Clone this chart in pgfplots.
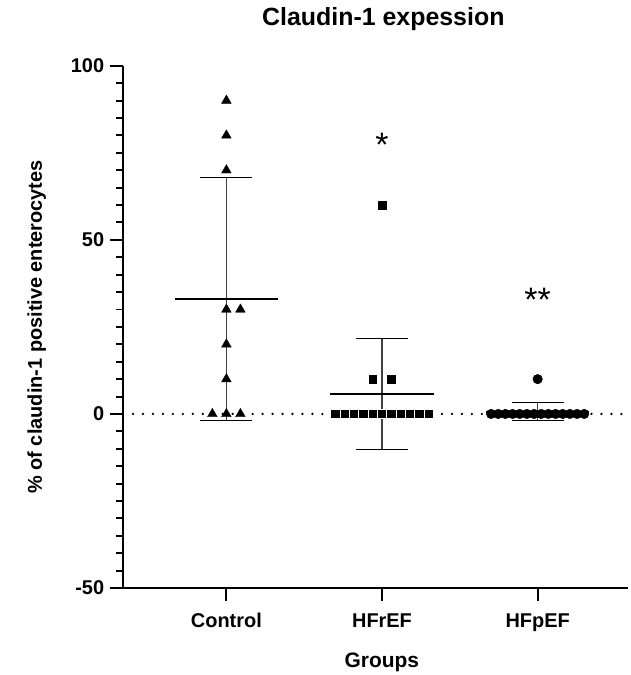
\documentclass[border=0pt]{standalone}
\usepackage{fontspec}
\setmainfont{Liberation Sans}
\usepackage{pgfplots}
\pgfplotsset{compat=1.18}
\definecolor{sdgray}{HTML}{404040}
\begin{document}
\begin{tikzpicture}
\path (-123pt,-85pt) rectangle (510pt,590pt);
\begin{axis}[
  anchor=south west, at={(0pt,0pt)},
  scale only axis, width=507pt, height=524pt,
  xmin=0.333, xmax=3.58, ymin=-50, ymax=100,
  axis x line=bottom, axis y line=left,
  axis line style={-, line width=2pt},
  xtick={1,2,3}, xticklabels={Control,HFrEF,HFpEF},
  ytick={-50,0,50,100}, yticklabels={-50,0,50,100},
  minor y tick num=9,
  tick align=outside,
  major tick length=13pt, minor tick length=7pt,
  every tick/.style={black, line width=2pt},
  tick label style={font=\fontsize{20}{24}\selectfont\bfseries},
  xticklabel style={yshift=-9pt},
  yticklabel style={xshift=-2pt},
  clip=false,
  title={\fontsize{25}{30}\selectfont\bfseries Claudin-1 expession},
  title style={at={(axis description cs:0.516,1.078)}, anchor=center},
  xlabel={\fontsize{21}{25}\selectfont\bfseries Groups},
  xlabel style={at={(axis description cs:0.513,-0.142)}, anchor=center},
  ylabel={\fontsize{20}{24}\selectfont\bfseries \% of claudin-1 positive enterocytes},
  ylabel style={at={(axis description cs:-0.170,0.5)}, anchor=center, rotate=0},
]
% zero reference line
\addplot[black, line width=2.6pt, line cap=round, dash pattern=on 0pt off 10pt] coordinates {(0.40,0) (3.58,0)};

% Control: mean 33, SD 35
\addplot[sdgray, line width=1.3pt] coordinates {(1,-2) (1,68)};
\addplot[black, line width=1.1pt] coordinates {(0.833,68) (1.167,68)};
\addplot[black, line width=1.1pt] coordinates {(0.833,-2) (1.167,-2)};
\addplot[black, line width=2.2pt] coordinates {(0.667,33) (1.333,33)};
\addplot[only marks, mark=triangle*, mark size=5.6pt, black] coordinates {
 (1,90) (1,80) (1,70) (1,30) (1.09,30) (1,20) (1,10) (0.91,0) (1,0) (1.09,0)};

% HFrEF: mean 5.71, SD 16.0
\addplot[sdgray, line width=1.3pt] coordinates {(2,-10.3) (2,21.7)};
\addplot[black, line width=1.1pt] coordinates {(1.833,21.7) (2.167,21.7)};
\addplot[black, line width=1.1pt] coordinates {(1.833,-10.3) (2.167,-10.3)};
\addplot[black, line width=2.2pt] coordinates {(1.667,5.71) (2.333,5.71)};
\addplot[only marks, mark=square*, mark size=4.7pt, black, mark options={draw=white, line width=0.4pt, fill=black}] coordinates {
 (2,60) (1.94,10) (2.06,10)
 (1.70,0) (1.76,0) (1.82,0) (1.88,0) (1.94,0) (2,0) (2.06,0) (2.12,0) (2.18,0) (2.24,0) (2.30,0)};

% HFpEF: mean 0.67, SD 2.58
\addplot[sdgray, line width=1.3pt] coordinates {(3,-1.92) (3,3.25)};
\addplot[black, line width=1.1pt] coordinates {(2.833,3.25) (3.167,3.25)};
\addplot[black, line width=1.1pt] coordinates {(2.833,-1.92) (3.167,-1.92)};
\addplot[black, line width=2.2pt] coordinates {(2.667,0.67) (3.333,0.67)};
\addplot[only marks, mark=*, mark size=4.8pt, black] coordinates {
 (3,10)
 (2.701,0) (2.747,0) (2.793,0) (2.839,0) (2.885,0) (2.931,0) (2.977,0)
 (3.023,0) (3.069,0) (3.115,0) (3.161,0) (3.207,0) (3.253,0) (3.299,0)};

\node[font=\fontsize{34}{34}\selectfont] at (axis cs:2,77.2) {*};
\node[font=\fontsize{34}{34}\selectfont] at (axis cs:3,32.8) {**};
\end{axis}
\end{tikzpicture}
\end{document}
